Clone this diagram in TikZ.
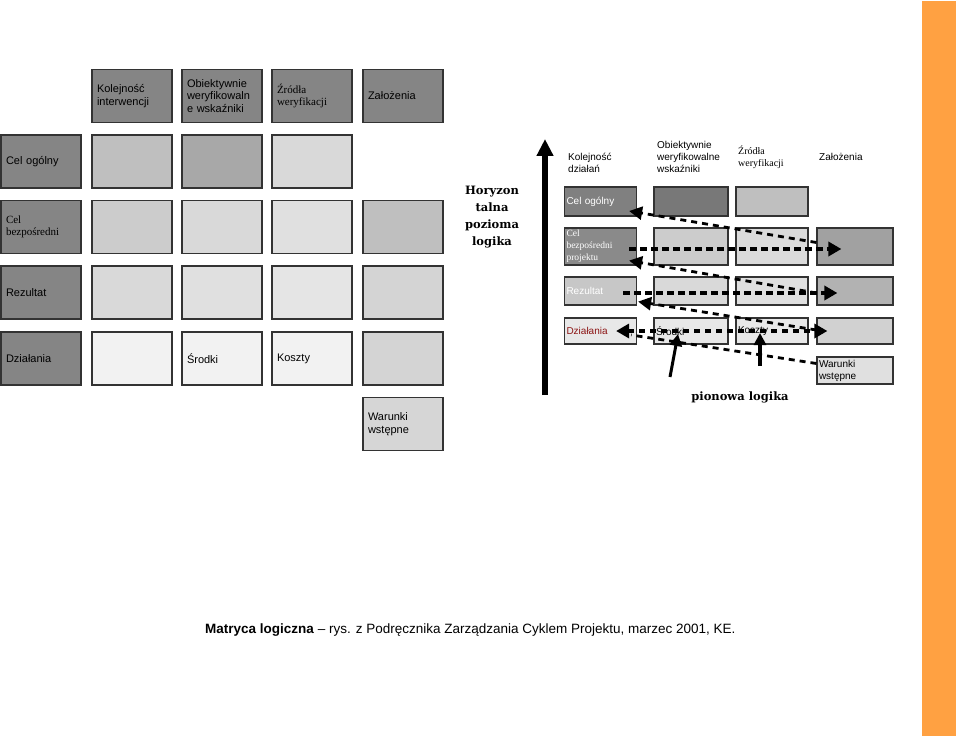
\documentclass[tikz,border=0pt]{standalone}
\usepackage{fontspec}
\setmainfont{Liberation Serif}
\setsansfont{Liberation Sans}
\newfontfamily\headserif{DejaVu Serif}
\usepackage{tikz}
\usetikzlibrary{shapes,arrows.meta,positioning}
\definecolor{barorange}{RGB}{255,161,66}
\definecolor{actred}{RGB}{140,20,20}

\begin{document}
\begin{tikzpicture}[x=1pt, y=-1pt,
  lbox/.style={rectangle, draw=black!80, line width=1.2pt, minimum width=80pt, minimum height=53pt, text width=70pt, inner xsep=5pt, align=left, font=\sffamily\fontsize{11}{12.5}\selectfont},
  rbox/.style={rectangle, draw=black!80, line width=1.2pt, text width=68pt, inner xsep=2pt, inner ysep=0pt, align=left, font=\sffamily\fontsize{10}{12}\selectfont},
  hdr/.style={anchor=west, inner sep=0pt, align=left, font=\sffamily\fontsize{10}{12}\selectfont},
  bigdash/.style={-{Triangle[length=13pt, width=14pt]}, line width=4.5pt, dash pattern=on 7pt off 4pt},
  thindash/.style={line width=2.8pt, dash pattern=on 6pt off 5pt},
  solidarrow/.style={-{Triangle[length=12pt, width=12pt]}, line width=3pt}
]
\useasboundingbox (0,0) rectangle (960,738);

% Side bar
\fill[barorange] (922,1) rectangle (956,736);

% Left matrix: header row
\node[lbox, fill=black!48] (lh1) at (132,96) {Kolejność\\interwencji};
\node[lbox, fill=black!48] (lh2) at (222,96) {Obiektywnie\\weryfikowaln\\e wskaźniki};
\node[lbox, fill=black!48, font=\rmfamily\fontsize{11}{12.5}\selectfont] (lh3) at (312,96) {Źródła\\weryfikacji};
\node[lbox, fill=black!48] (lh4) at (403,96) {Założenia};

% Left matrix: row labels
\node[lbox, fill=black!48] (l1) at (41,161.5) {Cel ogólny};
\node[lbox, fill=black!48, font=\rmfamily\fontsize{11}{12.5}\selectfont] (l2) at (41,227) {Cel\\bezpośredni};
\node[lbox, fill=black!48] (l3) at (41,292.5) {Rezultat};
\node[lbox, fill=black!48] (l4) at (41,358.5) {Działania};

% Left matrix: cells
\node[lbox, fill=black!25] (c11) at (132,161.5) {};
\node[lbox, fill=black!34] (c12) at (222,161.5) {};
\node[lbox, fill=black!15] (c13) at (312,161.5) {};

\node[lbox, fill=black!20] (c21) at (132,227) {};
\node[lbox, fill=black!15] (c22) at (222,227) {};
\node[lbox, fill=black!12] (c23) at (312,227) {};
\node[lbox, fill=black!25] (c24) at (403,227) {};

\node[lbox, fill=black!15] (c31) at (132,292.5) {};
\node[lbox, fill=black!12] (c32) at (222,292.5) {};
\node[lbox, fill=black!10] (c33) at (312,292.5) {};
\node[lbox, fill=black!17] (c34) at (403,292.5) {};

\node[lbox, fill=black!5] (c41) at (132,358.5) {};
\node[lbox, fill=black!5] (c42) at (222,358.5) {Środki};
\node[lbox, fill=black!5] (c43) at (312,358.5) {Koszty};
\node[lbox, fill=black!17] (c44) at (403,358.5) {};

\node[lbox, fill=black!16] (c54) at (403,424) {Warunki\\wstępne};

% Right matrix: headers
\node[hdr] (rh1) at (568,163) {Kolejność\\działań};
\node[hdr] (rh2) at (657,157) {Obiektywnie\\weryfikowalne\\wskaźniki};
\node[hdr, font=\rmfamily\fontsize{10}{11.5}\selectfont] (rh3) at (738,157.5) {Źródła\\weryfikacji};
\node[hdr] (rh4) at (819,157) {Założenia};

% Right matrix: rows
\node[rbox, fill=black!50, minimum height=29pt, text=white] (r10) at (600.5,201.5) {Cel ogólny};
\node[rbox, fill=black!53, minimum height=29pt, text width=70pt] (r11) at (691,201.5) {};
\node[rbox, fill=black!25, minimum height=29pt] (r12) at (772,201.5) {};

\node[rbox, fill=black!46, minimum height=37pt, text=white, font=\rmfamily\fontsize{9.5}{12}\selectfont] (r20) at (600.5,246.5) {Cel\\bezpośredni\\projektu};
\node[rbox, fill=black!20, minimum height=37pt, text width=70pt] (r21) at (691,246.5) {};
\node[rbox, fill=black!14, minimum height=37pt] (r22) at (772,246.5) {};
\node[rbox, fill=black!37, minimum height=37pt, text width=72pt] (r23) at (855,246.5) {};

\node[rbox, fill=black!22, minimum height=28pt, text=white] (r30) at (600.5,291) {Rezultat};
\node[rbox, fill=black!15, minimum height=28pt, text width=70pt] (r31) at (691,291) {};
\node[rbox, fill=black!12, minimum height=28pt] (r32) at (772,291) {};
\node[rbox, fill=black!30, minimum height=28pt, text width=72pt] (r33) at (855,291) {};

\node[rbox, fill=black!9, minimum height=26pt, text=actred] (r40) at (600.5,331) {Działania};
\node[rbox, fill=black!9, minimum height=26pt, text width=70pt] (r41) at (691,331) {Środki};
\node[rbox, fill=black!9, minimum height=26pt] (r42) at (772,331) {Koszty};
\node[rbox, fill=black!18, minimum height=26pt, text width=72pt] (r43) at (855,331) {};

\node[rbox, fill=black!12, minimum height=27pt, text width=72pt] (r53) at (855,370.5) {Warunki\\wstępne};

% Logic labels
\node[align=center, font=\headserif\bfseries\fontsize{11.5}{16.8}\selectfont] (hlogic) at (492,217) {Horyzon\\talna\\pozioma\\logika};
\node[font=\headserif\bfseries\fontsize{11.5}{13}\selectfont] (vlogic) at (740,397) {pionowa logika};

% Vertical axis
\coordinate (vbot) at (545,395);
\coordinate (vtop) at (545,139);
\draw[-{Triangle[length=17pt, width=16pt]}, line width=6pt] (vbot) -- (vtop);

% Horizontal logic
\draw[bigdash] ([xshift=-8pt, yshift=-2.5pt]r20.east) -- ([xshift=25pt, yshift=-2.5pt]r23.west);
\draw[bigdash] ([xshift=-14pt, yshift=-2pt]r30.east) -- ([xshift=21pt, yshift=-2pt]r33.west);
\draw[thindash, line width=3.5pt, {Triangle[length=13pt, width=14pt]}-{Triangle[length=13pt, width=14pt]}] ([xshift=-21pt]r40.east) -- ([xshift=11pt]r43.west);

% Diagonal links
\draw[thindash, -{Triangle[length=13pt, width=13pt]}] ([yshift=4pt]r23.west) -- ([xshift=-8pt, yshift=-9.5pt]r10.east);
\draw[thindash, -{Triangle[length=13pt, width=13pt]}] ([yshift=-2pt]r33.west) -- ([xshift=-8pt, yshift=5pt]r20.south east);
\draw[thindash, -{Triangle[length=13pt, width=13pt]}] ([yshift=1pt]r43.west) -- ([xshift=1pt, yshift=4pt]r30.south east);
\draw[thindash] ([yshift=7pt]r53.west) -- ([xshift=-6pt, yshift=-4pt]r40.east);

% Vertical logic
\coordinate (p1) at (670,377);
\coordinate (p2) at (760,366);
\draw[solidarrow] (p1) -- ([xshift=-13pt, yshift=-3pt]r41.center);
\draw[solidarrow, line width=4.5pt] (p2) -- ([xshift=-12pt, yshift=-2pt]r42.center);

% Caption
\node[anchor=west, inner sep=0pt, font=\sffamily\fontsize{13.5}{16}\selectfont] (caption) at (205,630) {\textbf{Matryca logiczna} -- rys. z Podręcznika Zarządzania Cyklem Projektu, marzec 2001, KE.};
\end{tikzpicture}
\end{document}
